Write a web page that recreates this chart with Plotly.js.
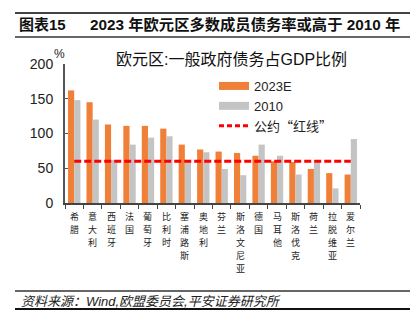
<!DOCTYPE html>
<html>
<head>
<meta charset="utf-8">
<script src="https://cdn.plot.ly/plotly-3.0.1.min.js"></script>
<style>html,body{margin:0;padding:0;background:#fff;}#chart{width:418px;height:332px;}</style>
</head>
<body>
<div id="chart"></div>
<script>
const categories = ["希腊","意大利","西班牙","法国","葡萄牙","比利时","塞浦路斯","奥地利","芬兰","斯洛文尼亚","德国","马耳他","斯洛伐克","荷兰","拉脱维亚","爱尔兰"];
const debt2023E = [162, 145, 113, 111, 111, 107, 84, 77, 74, 72, 68, 60, 59, 49, 43, 41];
const debt2010  = [148, 120, 62, 84, 94, 96, 62, 73, 49, 40, 84, 68, 41, 61, 21, 92];
const redLine   = [60, 60, 60, 60, 60, 60, 60, 60, 60, 60, 60, 60, 60, 60, 60, 60];
const yTicks = [0, 50, 100, 150, 200];
const seriesNames = ["2023E", "2010", "公约“红线”"];

const W = 418, H = 332;
const M = {l: 65, r: 58, t: 64, b: 129};
const PW = W - M.l - M.r, PH = H - M.t - M.b;
const px = v => (v - M.l) / PW;
const py = v => (H - M.b - v) / PH;

const FONT = "Liberation Sans, Arial, Noto Sans CJK SC, sans-serif";
const CJK = "Noto Sans CJK SC";
const ORANGE = "#F07F38", GRAY = "#C4C4C4", RED = "#FF0000";

// full-width CJK quotes for the legend label
const cjkQuotes = s => s.replace(/[“”]/g, q => '<span style="font-family:' + CJK + '">' + q + '</span>');

const traces = [
  {type: "bar", x: categories, y: debt2023E, marker: {color: ORANGE}, showlegend: false, name: seriesNames[0]},
  {type: "bar", x: categories, y: debt2010, marker: {color: GRAY}, showlegend: false, name: seriesNames[1]},
  {type: "scatter", mode: "lines", x: categories, y: redLine, line: {color: RED, width: 3, dash: "7px,3px"}, showlegend: false, name: seriesNames[2]},
  {type: "scatter", mode: "lines", x: [null], y: [null], line: {color: ORANGE, width: 8}, name: seriesNames[0]},
  {type: "scatter", mode: "lines", x: [null], y: [null], line: {color: GRAY, width: 8}, name: seriesNames[1]},
  {type: "scatter", mode: "lines", x: [null], y: [null], line: {color: RED, width: 3, dash: "5px,3px"}, name: cjkQuotes(seriesNames[2])}
];

const annotations = [];
// vertical category labels, one character per line
const LBL_SIZE = 9, LBL_PITCH = 13.1, LBL_FIRST = 13.5;
categories.forEach((c, i) => {
  Array.from(c).forEach((ch, k) => {
    annotations.push({xref: "x", yref: "paper", x: i, y: 0, yanchor: "middle", xanchor: "center",
      yshift: -(LBL_FIRST + k * LBL_PITCH), text: ch, showarrow: false, borderpad: 0,
      font: {family: CJK, size: LBL_SIZE, color: "#222"}});
  });
});
annotations.push({xref: "paper", yref: "paper", x: px(17), y: py(25), xanchor: "left", yanchor: "middle",
  text: "<b>图表15</b>", showarrow: false, font: {family: FONT, size: 15, color: "#111"}});
annotations.push({xref: "paper", yref: "paper", x: px(88), y: py(25), xanchor: "left", yanchor: "middle",
  text: "<b>2023 年欧元区多数成员债务率或高于 2010 年</b>", showarrow: false, font: {family: FONT, size: 15.3, color: "#111"}});
annotations.push({xref: "paper", yref: "paper", x: px(231), y: py(60), xanchor: "center", yanchor: "middle",
  text: "欧元区:一般政府债务占GDP比例", showarrow: false, font: {family: FONT, size: 16, color: "#111"}});
annotations.push({xref: "paper", yref: "paper", x: px(59), y: py(54), xanchor: "center", yanchor: "middle",
  text: "%", showarrow: false, font: {family: FONT, size: 12, color: "#222"}});
annotations.push({xref: "paper", yref: "paper", x: px(19), y: py(301), xanchor: "left", yanchor: "middle",
  text: "资料来源：Wind,欧盟委员会,平安证券研究所", showarrow: false,
  font: {family: FONT, size: 13, color: "#222", style: "italic"}});

const shapes = [
  {type: "line", xref: "paper", yref: "paper", x0: px(15), x1: px(410), y0: py(13), y1: py(13), line: {color: "#444", width: 2}},
  {type: "line", xref: "paper", yref: "paper", x0: px(15), x1: px(410), y0: py(37), y1: py(37), line: {color: "#333", width: 1.5}},
  {type: "line", xref: "paper", yref: "paper", x0: px(15), x1: px(410), y0: py(291), y1: py(291), line: {color: "#333", width: 1.5}},
  {type: "line", xref: "paper", yref: "paper", x0: px(15), x1: px(410), y0: py(309), y1: py(309), line: {color: "#111", width: 2}}
];

const layout = {
  width: W, height: H,
  margin: M,
  paper_bgcolor: "#fff", plot_bgcolor: "#fff",
  barmode: "group", bargap: 0.33, bargroupgap: 0,
  font: {family: FONT, color: "#222"},
  xaxis: {type: "category", showticklabels: false,
    ticks: "outside", tickson: "boundaries", ticklen: 4,
    tickcolor: "#444", tickwidth: 1, showline: true, linecolor: "#444", linewidth: 2, showgrid: false,
    zeroline: false, range: [-0.5, categories.length - 0.5], fixedrange: true},
  yaxis: {range: [0, 200], tickvals: yTicks, ticktext: yTicks.map(String), ticks: "inside", ticklen: 3,
    tickcolor: "#555", showline: true, linecolor: "#555", linewidth: 2, showgrid: false, zeroline: false,
    tickfont: {family: FONT, size: 14, color: "#222"}, ticklabelstandoff: 7, fixedrange: true},
  showlegend: true,
  legend: {x: px(214), y: py(71), xanchor: "left", yanchor: "top", bgcolor: "rgba(0,0,0,0)",
    font: {family: FONT, size: 13, color: "#222"}, tracegroupgap: 0, itemwidth: 30},
  annotations: annotations,
  shapes: shapes
};

Plotly.newPlot("chart", traces, layout, {staticPlot: true, displayModeBar: false});
</script>
</body>
</html>
